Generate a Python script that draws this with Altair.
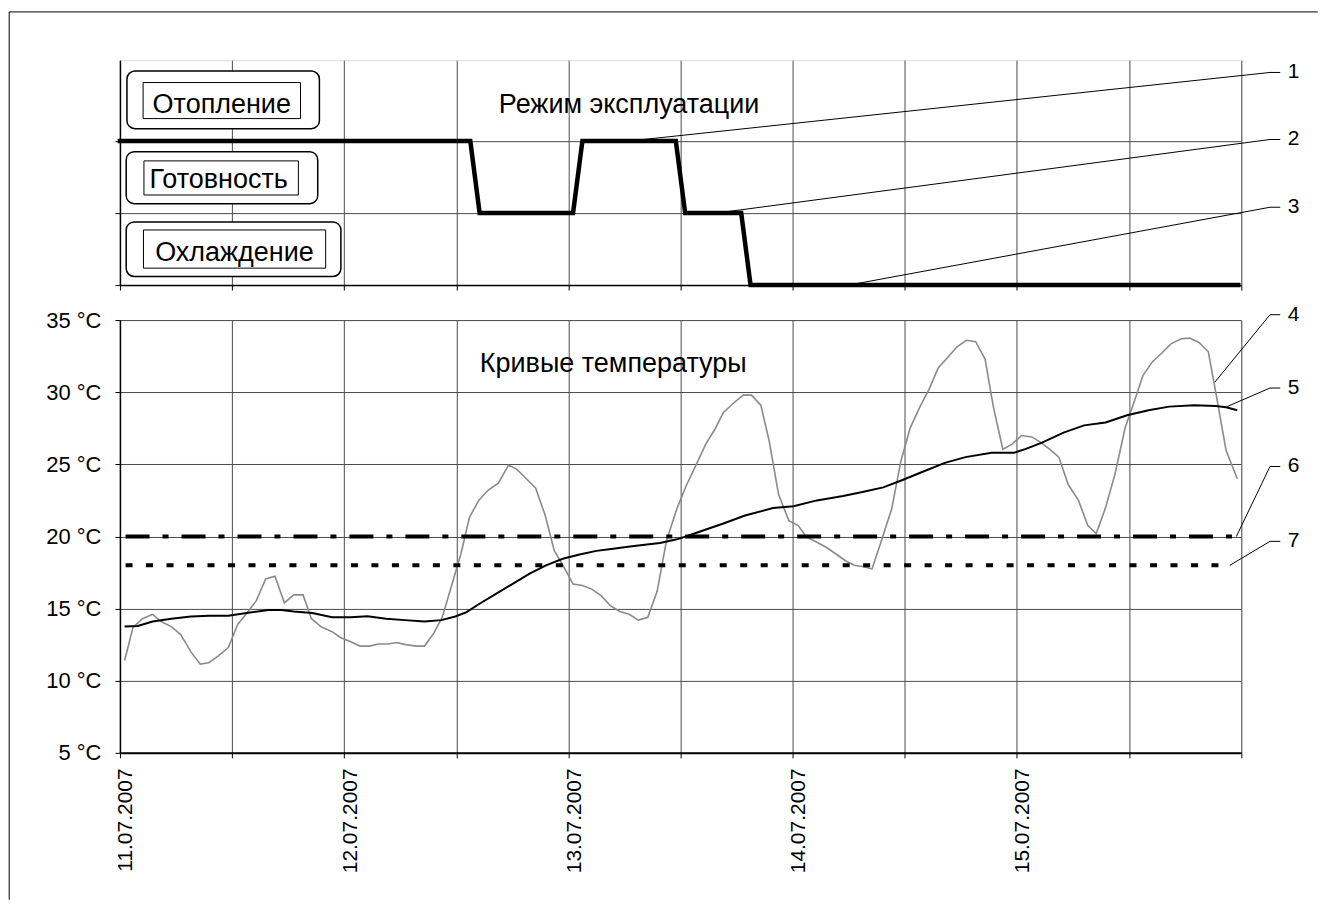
import json
import altair as alt
import pandas as pd

FONT = "Liberation Sans"
GRID = "#4a4a4a"

# ---------------- data ----------------
# time axis: hours since 11.07.2007 00:00
X_TICKS = list(range(0, 121, 12))
DATE_LABELS = ["11.07.2007", "12.07.2007", "13.07.2007", "14.07.2007", "15.07.2007"]
TEMP_TICKS = [5, 10, 15, 20, 25, 30, 35]

# operating mode: 2 = heating, 1 = standby, 0 = cooling
MODE_H = [0, 37.5, 38.5, 48.5, 49.5, 59.5, 60.5, 66.5, 67.5, 119.7]
MODE_L = [2, 2, 1, 1, 2, 2, 1, 1, 0, 0]
MODE_NAMES = ["Отопление", "Готовность", "Охлаждение"]

# outdoor temperature (grey curve)
OUT_H = [0.5, 1.4, 2.4, 3.5, 4.4, 5.5, 6.5, 7.6, 8.6, 9.5, 10.5, 11.6, 12.6, 13.6, 14.6, 15.6, 16.6, 17.6, 18.6, 19.6, 20.5, 21.5, 22.7, 23.6,
         24.7, 25.7, 26.7, 27.7, 28.7, 29.6, 30.6, 31.7, 32.6, 33.6, 34.5, 35.5, 36.5, 37.4, 38.4, 39.4, 40.5, 41.6, 42.5, 43.5, 44.5, 45.5, 46.5, 47.5,
         48.5, 49.5, 50.5, 51.5, 52.5, 53.5, 54.5, 55.5, 56.5, 57.5, 58.5, 59.6, 60.6, 61.7, 62.7, 63.7, 64.6, 65.6, 66.7, 67.6, 68.6, 69.5, 70.5, 71.6,
         72.6, 73.5, 74.6, 75.6, 76.6, 77.7, 78.6, 79.6, 80.5, 81.4, 82.6, 83.6, 84.6, 85.6, 86.6, 87.6, 88.6, 89.6, 90.6, 91.6, 92.6, 93.5, 94.5, 95.5,
         96.5, 97.6, 98.6, 99.5, 100.5, 101.5, 102.6, 103.6, 104.5, 105.5, 106.5, 107.6, 108.6, 109.5, 110.5, 111.5, 112.5, 113.6, 114.5, 115.5, 116.5, 117.4, 118.4, 119.6]
OUT_T = [11.4, 13.7, 14.3, 14.6, 14.1, 13.75, 13.2, 12.0, 11.15, 11.25, 11.7, 12.3, 13.9, 14.7, 15.55, 17.05, 17.25, 15.4, 15.95, 15.95, 14.3, 13.75, 13.4, 13.0,
         12.7, 12.4, 12.4, 12.55, 12.55, 12.65, 12.5, 12.4, 12.4, 13.3, 14.4, 16.6, 18.8, 21.3, 22.5, 23.2, 23.7, 24.95, 24.65, 24.0, 23.35, 21.5, 19.0, 17.9,
         16.7, 16.6, 16.35, 15.9, 15.2, 14.8, 14.6, 14.2, 14.4, 16.2, 19.7, 21.9, 23.5, 25.0, 26.4, 27.45, 28.6, 29.2, 29.8, 29.8, 29.1, 26.6, 22.9, 21.1,
         20.75, 19.95, 19.6, 19.25, 18.8, 18.3, 18.0, 17.9, 17.75, 19.5, 21.9, 25.25, 27.55, 28.95, 30.2, 31.7, 32.4, 33.15, 33.6, 33.5, 32.3, 28.95, 26.05, 26.4,
         27.0, 26.9, 26.5, 26.05, 25.5, 23.6, 22.5, 20.75, 20.2, 22.0, 24.3, 27.55, 29.4, 31.15, 32.1, 32.7, 33.35, 33.7, 33.75, 33.45, 32.8, 29.6, 25.95, 24.0]

# averaged temperature (black curve)
AVG_H = [0.5, 1.9, 3.5, 5.5, 7.6, 9.6, 11.6, 14.1, 15.9, 17.3, 18.6, 20.6, 22.7, 24.7, 26.5, 28.5, 30.5, 32.6, 34.4, 35.9,
         37.1, 38.4, 40.2, 42.0, 43.8, 45.6, 47.4, 49.2, 51.0, 52.8, 54.6, 56.4, 57.8, 59.6, 60.8, 62.8, 64.6, 66.9, 69.9, 72.1,
         74.6, 77.4, 79.6, 81.7, 83.7, 86.0, 88.3, 90.5, 93.3, 95.7, 96.9, 98.7, 101.0, 103.2, 105.5, 107.8, 110.1, 112.3, 115.0, 117.3,
         118.4, 119.6]
AVG_T = [13.75, 13.8, 14.1, 14.3, 14.45, 14.5, 14.5, 14.75, 14.9, 14.9, 14.8, 14.7, 14.4, 14.4, 14.47, 14.3, 14.2, 14.1, 14.2, 14.45,
         14.75, 15.3, 16.0, 16.7, 17.4, 18.0, 18.45, 18.75, 19.0, 19.15, 19.3, 19.45, 19.55, 19.8, 20.05, 20.5, 20.9, 21.45, 21.97, 22.1,
         22.5, 22.8, 23.1, 23.4, 23.9, 24.5, 25.1, 25.5, 25.8, 25.8, 26.05, 26.5, 27.2, 27.7, 27.9, 28.4, 28.75, 29.0, 29.1, 29.05,
         28.95, 28.75]

# set temperatures (dash-dot 20 °C, dotted 18 °C)
SET_COMFORT = 20.0
SET_LOW = 18.0
SET_COMFORT_H = [0.6, 119.5]
SET_LOW_H = [0.6, 118.8]

# callouts
TOP_NUM = ["1", "2", "3"]
TOP_NUM_LVL = [2.95, 2.02, 1.08]
TOP_TGT_H = [54.6, 63.9, 78.0]
TOP_TGT_LVL = [2, 1, 0]
BOT_NUM = ["4", "5", "6", "7"]
BOT_NUM_T = [35.37, 30.29, 24.85, 19.66]
BOT_TGT_H = [117.2, 118.5, 119.5, 118.8]
BOT_TGT_T = [30.7, 29.0, 20.0, 18.0]
CALLOUT_H = [123.1, 124.2, 125.0]   # leader start, stub end, text start (hours)

TOP_TITLE = "Режим эксплуатации"
BOT_TITLE = "Кривые температуры"

assert len(OUT_H) == len(OUT_T) and len(AVG_H) == len(AVG_T)

# ---------------- scales / axes ----------------
xs = alt.Scale(domain=[0, 120], nice=False, zero=False)
ys_top = alt.Scale(domain=[0, 3.12], nice=False, zero=False)
ys_bot = alt.Scale(domain=[5, 35], nice=False, zero=False)

common = dict(title=None, tickSize=5, tickColor="black", domainColor="black",
              grid=True, gridColor=GRID, gridWidth=1)
top_x_axis = alt.Axis(values=X_TICKS, labels=False, domainWidth=1.5, **common)
top_y_axis = alt.Axis(values=[0, 1, 2], labels=False, domainWidth=1.5, **common)

date_expr = ("datum.value % 24 == 0 && datum.value < 120 ? "
             + json.dumps(DATE_LABELS) + "[datum.value / 24] : ''")
bot_x_axis = alt.Axis(values=X_TICKS, labelExpr=date_expr, labelAngle=270,
                      labelAlign="right", labelBaseline="middle", labelFont=FONT,
                      labelFontSize=21, labelColor="black", labelPadding=10, labelOffset=6,
                      labelFlush=False, labelOverlap=False, domainWidth=2, **common)
bot_y_axis = alt.Axis(values=TEMP_TICKS, labelExpr="datum.value + ' °C'", labelFont=FONT,
                      labelFontSize=22, labelColor="black", labelPadding=14,
                      labelFlush=False, labelOverlap=False, domainWidth=1.5, **common)


def TX(f):
    return alt.X(f, type="quantitative", scale=xs, axis=top_x_axis)


def TY(f):
    return alt.Y(f, type="quantitative", scale=ys_top, axis=top_y_axis)


def BX(f):
    return alt.X(f, type="quantitative", scale=xs, axis=bot_x_axis)


def BY(f):
    return alt.Y(f, type="quantitative", scale=ys_bot, axis=bot_y_axis)


W = 1121.7

# ---------------- top panel ----------------
mode_df = pd.DataFrame({"h": MODE_H, "lvl": MODE_L})
mode_line = alt.Chart(mode_df).mark_line(color="black", strokeWidth=4.5, strokeJoin="miter",
                                          strokeCap="square").encode(x=TX("h"), y=TY("lvl"))

box_df = pd.DataFrame({
    "name": MODE_NAMES,
    "lvl": [2, 1, 0],
    "ox1": [0.75, 0.67, 0.67], "ox2": [21.35, 21.17, 23.65],
    "oy1": [2.17, 1.13, 0.12], "oy2": [2.97, 1.85, 0.877],
    "ix1": [2.48, 2.57, 2.52], "ix2": [19.33, 19.1, 22.02],
    "iy1": [2.31, 1.25, 0.235], "iy2": [2.81, 1.723, 0.765],
    "tx": [10.9, 10.56, 12.26], "ty": [2.392, 1.353, 0.337],
})
box_outer = alt.Chart(box_df).mark_rect(fill="white", stroke="black", strokeWidth=1.5,
                                        cornerRadius=8).encode(
    x=TX("ox1"), x2="ox2", y=TY("oy1"), y2="oy2")
box_inner = alt.Chart(box_df).mark_rect(fill="white", stroke="black", strokeWidth=1).encode(
    x=TX("ix1"), x2="ix2", y=TY("iy1"), y2="iy2")
box_text = alt.Chart(box_df).mark_text(font=FONT, fontSize=27, align="center",
                                       baseline="alphabetic", color="black").encode(
    x=TX("tx"), y=TY("ty"), text="name:N")

top_title = alt.Chart(pd.DataFrame({"h": [54.5], "lvl": [2.392], "t": [TOP_TITLE]})).mark_text(
    font=FONT, fontSize=27, align="center", baseline="alphabetic", color="black").encode(
    x=TX("h"), y=TY("lvl"), text="t:N")

top_call = pd.DataFrame({"n": TOP_NUM, "ly": TOP_NUM_LVL, "th": TOP_TGT_H, "tl": TOP_TGT_LVL,
                         "h0": CALLOUT_H[0], "h1": CALLOUT_H[1], "h2": CALLOUT_H[2]})
top_lead = alt.Chart(top_call).mark_rule(color="black", strokeWidth=1).encode(
    x=TX("h0"), y=TY("ly"), x2="th", y2="tl")
top_stub = alt.Chart(top_call).mark_rule(color="black", strokeWidth=1).encode(
    x=TX("h0"), x2="h1", y=TY("ly"))
top_num = alt.Chart(top_call).mark_text(font=FONT, fontSize=21, align="left", baseline="middle",
                                        color="black").encode(x=TX("h2"), y=TY("ly"), text="n:N")

# outer frame of the figure (decoration, in pixels relative to the top panel)
one = pd.DataFrame({"k": [0]})
frame_top = alt.Chart(one).mark_rule(color="black", strokeWidth=1).encode(
    x=alt.value(-110.8), x2=alt.value(1198.5), y=alt.value(-48.3))
frame_left = alt.Chart(one).mark_rule(color="black", strokeWidth=1).encode(
    x=alt.value(-110.8), y=alt.value(-48.3), y2=alt.value(840))

top = alt.layer(mode_line, box_outer, box_inner, box_text, top_title,
                top_lead, top_stub, top_num, frame_top, frame_left).properties(width=W, height=225)

# ---------------- bottom panel ----------------
out_df = pd.DataFrame({"h": OUT_H, "t": OUT_T})
avg_df = pd.DataFrame({"h": AVG_H, "t": AVG_T})
out_line = alt.Chart(out_df).mark_line(color="#8a8a8a", strokeWidth=1.6).encode(x=BX("h"), y=BY("t"))
avg_line = alt.Chart(avg_df).mark_line(color="black", strokeWidth=2).encode(x=BX("h"), y=BY("t"))

comfort = alt.Chart(pd.DataFrame({"h0": [SET_COMFORT_H[0]], "h1": [SET_COMFORT_H[1]], "t": [SET_COMFORT]})).mark_rule(
    color="black", strokeWidth=4, strokeDash=[24, 13, 6, 13]).encode(x=BX("h0"), x2="h1", y=BY("t"))
low = alt.Chart(pd.DataFrame({"h0": [SET_LOW_H[0]], "h1": [SET_LOW_H[1]], "t": [SET_LOW]})).mark_rule(
    color="black", strokeWidth=4, strokeDash=[7, 13.5]).encode(x=BX("h0"), x2="h1", y=BY("t"))

bot_title = alt.Chart(pd.DataFrame({"h": [52.8], "t": [31.37], "s": [BOT_TITLE]})).mark_text(
    font=FONT, fontSize=27, align="center", baseline="alphabetic", color="black").encode(
    x=BX("h"), y=BY("t"), text="s:N")

bot_call = pd.DataFrame({"n": BOT_NUM, "ly": BOT_NUM_T, "th": BOT_TGT_H, "tt": BOT_TGT_T,
                         "h0": CALLOUT_H[0], "h1": CALLOUT_H[1], "h2": CALLOUT_H[2]})
bot_lead = alt.Chart(bot_call).mark_rule(color="black", strokeWidth=1).encode(
    x=BX("h0"), y=BY("ly"), x2="th", y2="tt")
bot_stub = alt.Chart(bot_call).mark_rule(color="black", strokeWidth=1).encode(
    x=BX("h0"), x2="h1", y=BY("ly"))
bot_num = alt.Chart(bot_call).mark_text(font=FONT, fontSize=21, align="left", baseline="middle",
                                        color="black").encode(x=BX("h2"), y=BY("ly"), text="n:N")

bottom = alt.layer(out_line, avg_line, comfort, low, bot_title,
                   bot_lead, bot_stub, bot_num).properties(width=W, height=433)

chart = alt.vconcat(top, bottom, spacing=35, bounds="flush").properties(
    padding={"left": 0, "top": 2, "right": 0, "bottom": 0}
).configure_view(stroke="black", strokeWidth=1).configure(font=FONT)

chart.save("out.html", embed_options={"renderer": "svg", "actions": False})
